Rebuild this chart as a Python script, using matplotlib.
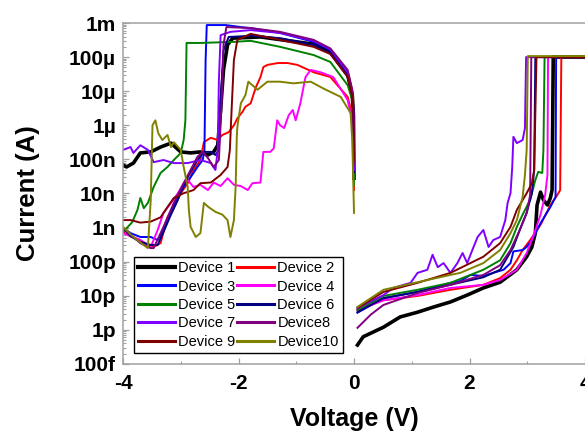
import numpy as np
import matplotlib
matplotlib.use("Agg")
import matplotlib.pyplot as plt
from matplotlib.ticker import MultipleLocator, LogLocator, NullFormatter

# I-V sweeps of 10 devices
# negative branch (-4 V -> 0 V) and positive branch (0 V -> 4 V)

d1_neg_v = [-4.0, -3.94, -3.82, -3.70, -3.52, -3.35, -3.17, -3.0, -2.83, -2.66, -2.53, -2.43, -2.36, -2.31, -2.26, -2.19, -2.1, -1.62, -0.70, -0.41, -0.11, -0.03, -0.01, 0.0]
d1_neg_i = [6.9e-8, 6.0e-8, 7.8e-8, 1.55e-7, 1.66e-7, 2.3e-7, 3.0e-7, 1.66e-7, 1.55e-7, 1.66e-7, 1.35e-7, 1.66e-7, 2.6e-7, 2.8e-6, 4.2e-5, 2.3e-4, 3.6e-4, 3.9e-4, 2.4e-4, 1.4e-4, 3.0e-5, 7.7e-6, 2.0e-6, 2.8e-8]
d1_pos_v = [0.06, 0.16, 0.51, 0.80, 1.10, 1.38, 1.67, 1.96, 2.24, 2.53, 2.82, 2.99, 3.08, 3.14, 3.17, 3.23, 3.28, 3.35, 3.40, 3.43, 3.45, 4.0]
d1_pos_i = [3.6e-13, 6.3e-13, 1.2e-12, 2.4e-12, 3.3e-12, 4.7e-12, 6.6e-12, 1.05e-11, 1.7e-11, 2.5e-11, 5.8e-11, 1.4e-10, 2.7e-10, 6.9e-10, 4.6e-9, 1.1e-8, 6.5e-9, 4.6e-9, 7.4e-9, 1.26e-8, 1e-4, 1e-4]

d2_neg_v = [-4.0, -3.87, -3.70, -3.57, -3.47, -3.35, -3.23, -3.12, -3.0, -2.88, -2.78, -2.66, -2.6, -2.48, -2.36, -2.28, -2.17, -2.08, -2.02, -1.93, -1.88, -1.79, -1.70, -1.62, -1.57, -1.50, -1.32, -1.15, -0.98, -0.70, -0.41, -0.11, -0.03, -0.01, 0.0]
d2_neg_i = [7.4e-10, 5.6e-10, 4.3e-10, 3.1e-10, 2.7e-10, 3.5e-10, 2.0e-9, 4.0e-9, 1.02e-8, 2.0e-8, 4.9e-8, 9.6e-8, 3.2e-7, 4.3e-7, 3.7e-7, 5.2e-7, 6.3e-7, 1.0e-6, 1.6e-6, 2.5e-6, 3.5e-6, 4.4e-6, 1.3e-5, 2.6e-5, 5.1e-5, 5.9e-5, 6.7e-5, 6.7e-5, 5.9e-5, 3.6e-5, 2.6e-5, 6.8e-6, 2.0e-6, 3.7e-7, 1.26e-8]
d2_pos_v = [0.06, 0.51, 1.10, 1.67, 2.24, 2.53, 2.71, 2.82, 2.92, 3.05, 3.23, 3.40, 3.52, 3.57, 3.59, 4.0]
d2_pos_i = [3.8e-12, 7.4e-12, 9.9e-12, 1.5e-11, 2.1e-11, 3.3e-11, 5.8e-11, 1.1e-10, 2.2e-10, 4.3e-10, 1.2e-9, 4.6e-9, 9.0e-9, 1.26e-8, 1e-4, 1e-4]

d3_neg_v = [-4.0, -3.87, -3.70, -3.52, -3.40, -3.30, -3.17, -3.05, -2.95, -2.83, -2.71, -2.62, -2.59, -2.57, -2.55, -2.22, -1.96, -1.79, -1.28, -0.70, -0.41, -0.11, -0.03, -0.01, 0.0]
d3_neg_i = [9.8e-10, 6.9e-10, 5.3e-10, 5.3e-10, 4.3e-10, 8.5e-10, 2.7e-9, 7.9e-9, 1.55e-8, 3.0e-8, 6.0e-8, 9.6e-8, 1.9e-7, 8.2e-5, 8.7e-4, 8.7e-4, 7.6e-4, 7.1e-4, 5.1e-4, 2.8e-4, 1.6e-4, 3.4e-5, 8.9e-6, 2.3e-6, 3.5e-8]
d3_pos_v = [0.06, 0.51, 1.10, 1.67, 1.84, 2.02, 2.24, 2.41, 2.59, 2.71, 2.76, 2.92, 2.99, 3.08, 3.23, 3.40, 3.49, 3.50, 4.0]
d3_pos_i = [3.2e-12, 8.5e-12, 1.3e-11, 2.4e-11, 2.7e-11, 4.1e-11, 3.8e-11, 4.7e-11, 5.8e-11, 9.1e-11, 2.0e-10, 2.2e-10, 2.7e-10, 4.3e-10, 1.35e-9, 4.0e-9, 7.9e-9, 1e-4, 1e-4]

d4_neg_v = [-4.0, -3.70, -3.52, -3.40, -3.30, -3.17, -3.05, -2.95, -2.88, -2.78, -2.66, -2.53, -2.43, -2.31, -2.19, -2.08, -1.96, -1.84, -1.76, -1.62, -1.57, -1.45, -1.39, -1.33, -1.28, -1.21, -1.13, -1.06, -1.01, -0.93, -0.84, -0.75, -0.58, -0.36, -0.11, -0.03, 0.0]
d4_neg_i = [6.9e-10, 4.3e-10, 2.7e-10, 8.5e-10, 2.7e-9, 5.3e-9, 1.02e-8, 2.0e-8, 2.5e-8, 1.55e-8, 1.8e-8, 1.26e-8, 2.1e-8, 1.65e-8, 2.8e-8, 1.8e-8, 1.65e-8, 1.26e-8, 2.0e-8, 2.1e-8, 1.66e-7, 1.66e-7, 2.1e-7, 1.4e-6, 1.0e-6, 8.3e-7, 2.0e-6, 2.8e-6, 1.4e-6, 4.4e-6, 2.6e-5, 4.2e-5, 3.6e-5, 2.6e-5, 5.5e-6, 1.4e-6, 2.5e-8]
d4_pos_v = [0.06, 0.51, 1.10, 1.67, 2.24, 2.53, 2.82, 2.99, 3.10, 3.23, 3.31, 3.35, 3.36, 4.0]
d4_pos_i = [3.8e-12, 7.4e-12, 1.05e-11, 1.7e-11, 2.1e-11, 2.9e-11, 5.8e-11, 1.8e-10, 5.3e-10, 2.4e-9, 9.0e-9, 3.5e-8, 1e-4, 1e-4]

d5_neg_v = [-4.0, -3.84, -3.75, -3.70, -3.64, -3.57, -3.47, -3.35, -3.23, -3.12, -3.0, -2.95, -2.92, -2.90, -2.66, -2.08, -1.79, -1.28, -0.70, -0.41, -0.11, -0.03, -0.01, 0.0]
d5_neg_i = [7.4e-10, 1.45e-9, 3.3e-9, 7.4e-9, 3.7e-9, 5.3e-9, 1.55e-8, 4.0e-8, 6.0e-8, 9.6e-8, 1.55e-7, 3.7e-7, 1.4e-6, 2.6e-4, 2.6e-4, 2.8e-4, 3.0e-4, 2.0e-4, 1.15e-4, 7.2e-5, 1.5e-5, 5.5e-6, 1.4e-6, 1.8e-8]
d5_pos_v = [0.06, 0.51, 1.10, 1.67, 2.24, 2.53, 2.71, 2.82, 2.92, 3.05, 3.14, 3.19, 3.26, 3.28, 3.30, 4.0]
d5_pos_i = [3.8e-12, 9.9e-12, 1.5e-11, 2.4e-11, 5.8e-11, 1.1e-10, 3.5e-10, 1.05e-9, 2.4e-9, 6.5e-9, 2.5e-8, 4.3e-8, 4.0e-8, 1.9e-7, 1e-4, 1e-4]

d6_neg_v = [-4.0, -3.87, -3.70, -3.52, -3.40, -3.30, -3.17, -3.05, -2.95, -2.83, -2.71, -2.6, -2.48, -2.40, -2.34, -2.31, -2.26, -2.17, -1.79, -1.28, -0.70, -0.41, -0.11, -0.03, -0.01, 0.0]
d6_neg_i = [9.8e-10, 5.6e-10, 3.8e-10, 3.1e-10, 3.1e-10, 7.4e-10, 2.4e-9, 6.5e-9, 1.8e-8, 4.3e-8, 9.6e-8, 1.66e-7, 1.66e-7, 1.35e-7, 1.9e-7, 5.5e-6, 1.6e-4, 3.9e-4, 4.2e-4, 3.6e-4, 2.3e-4, 1.3e-4, 2.8e-5, 7.2e-6, 1.9e-6, 4.3e-8]
d6_pos_v = [0.06, 0.51, 1.10, 1.67, 2.24, 2.53, 2.76, 2.87, 2.99, 3.08, 3.12, 3.14, 4.0]
d6_pos_i = [3.3e-12, 8.5e-12, 1.3e-11, 2.1e-11, 3.5e-11, 5.8e-11, 2.7e-10, 8.5e-10, 2.7e-9, 1.02e-8, 4.9e-8, 1e-4, 1e-4]

d7_neg_v = [-4.0, -3.87, -3.82, -3.70, -3.57, -3.47, -3.30, -3.12, -2.88, -2.66, -2.48, -2.40, -2.36, -2.34, -2.31, -2.14, -1.79, -1.28, -0.70, -0.41, -0.11, -0.03, -0.01, 0.0]
d7_neg_i = [1.9e-7, 2.3e-7, 1.55e-7, 2.6e-7, 1.9e-7, 8.3e-8, 9.6e-8, 7.8e-8, 7.8e-8, 9.6e-8, 7.8e-8, 4.9e-8, 1.9e-7, 2.1e-5, 4.4e-4, 5.5e-4, 6.2e-4, 5.1e-4, 3.0e-4, 1.7e-4, 3.6e-5, 9.5e-6, 2.5e-6, 4.9e-8]
d7_pos_v = [0.06, 0.51, 0.68, 0.98, 1.10, 1.27, 1.36, 1.45, 1.55, 1.67, 1.79, 1.88, 1.96, 2.07, 2.14, 2.24, 2.33, 2.41, 2.53, 2.62, 2.66, 2.71, 2.74, 2.76, 2.82, 2.92, 2.96, 2.98, 4.0]
d7_pos_i = [4.4e-12, 1.05e-11, 1.7e-11, 2.4e-11, 4.7e-11, 5.8e-11, 1.6e-10, 6.9e-11, 9.1e-11, 4.7e-11, 9.1e-11, 1.8e-10, 9.1e-11, 2.7e-10, 5.3e-10, 8.5e-10, 2.7e-10, 4.3e-10, 5.3e-10, 1.66e-9, 5.3e-9, 1.02e-8, 6.0e-8, 4.6e-7, 3.0e-7, 3.7e-7, 8.3e-7, 1e-4, 1e-4]

d8_neg_v = [-4.0, -3.87, -3.70, -3.52, -3.47, -3.30, -3.12, -2.95, -2.83, -2.71, -2.62, -2.53, -2.43, -2.34, -2.29, -2.26, -2.21, -1.79, -1.28, -0.70, -0.41, -0.11, -0.03, -0.01, 0.0]
d8_neg_i = [9.8e-10, 6.2e-10, 3.5e-10, 2.5e-10, 2.5e-10, 1.05e-9, 5.3e-9, 2.0e-8, 4.9e-8, 1.2e-7, 1.66e-7, 1.1e-7, 6.0e-8, 9.6e-8, 5.5e-6, 2.3e-4, 7.6e-4, 7.1e-4, 5.5e-4, 3.2e-4, 1.8e-4, 4.2e-5, 1.1e-5, 2.8e-6, 6.9e-8]
d8_pos_v = [0.06, 0.29, 0.51, 1.10, 1.67, 2.24, 2.53, 2.71, 2.87, 2.99, 3.05, 3.07, 4.0]
d8_pos_i = [1.15e-12, 2.8e-12, 5.4e-12, 1.2e-11, 2.1e-11, 4.1e-11, 7.9e-11, 2.2e-10, 8.5e-10, 2.7e-9, 9.0e-9, 1e-4, 1e-4]

d9_neg_v = [-4.0, -3.87, -3.70, -3.52, -3.35, -3.23, -3.12, -2.95, -2.78, -2.66, -2.48, -2.31, -2.19, -2.15, -2.12, -2.08, -2.02, -1.79, -1.28, -0.70, -0.41, -0.11, -0.03, -0.01, 0.0]
d9_neg_i = [1.66e-9, 1.66e-9, 1.4e-9, 1.5e-9, 2.0e-9, 4.0e-9, 7.4e-9, 1.02e-8, 1.26e-8, 2.0e-8, 2.1e-8, 3.5e-8, 6.0e-8, 1.9e-7, 2.8e-6, 8.2e-5, 3.2e-4, 4.8e-4, 3.2e-4, 2.0e-4, 1.23e-4, 2.6e-5, 6.8e-6, 1.8e-6, 9.6e-8]
d9_pos_v = [0.06, 0.51, 1.10, 1.67, 2.24, 2.53, 2.71, 2.82, 2.99, 3.08, 3.12, 3.16, 4.0]
d9_pos_i = [4.4e-12, 1.3e-11, 2.4e-11, 4.7e-11, 1.4e-10, 3.5e-10, 1.05e-9, 3.3e-9, 1.02e-8, 2.0e-8, 4.9e-8, 1e-4, 1e-4]

d10_neg_v = [-4.0, -3.82, -3.57, -3.52, -3.49, -3.44, -3.39, -3.32, -3.23, -3.17, -3.12, -3.0, -2.95, -2.88, -2.86, -2.83, -2.74, -2.66, -2.6, -2.52, -2.40, -2.28, -2.19, -2.14, -2.08, -2.05, -2.03, -2.02, -1.96, -1.88, -1.83, -1.67, -1.62, -1.50, -1.28, -1.05, -0.75, -0.53, -0.23, -0.06, -0.03, 0.0]
d10_neg_i = [1.05e-9, 5.3e-10, 2.5e-10, 6.5e-9, 1.0e-6, 1.4e-6, 5.9e-7, 3.7e-7, 5.2e-7, 2.3e-7, 3.2e-7, 1.9e-7, 6.0e-8, 1.55e-8, 3.3e-9, 1.05e-9, 5.3e-10, 6.9e-10, 5.3e-9, 4.0e-9, 2.9e-9, 2.4e-9, 1.66e-9, 5.3e-10, 1.66e-9, 1.55e-8, 4.6e-7, 9.0e-7, 4.4e-6, 7.7e-6, 1.9e-5, 1.1e-5, 1.3e-5, 1.9e-5, 1.9e-5, 1.7e-5, 1.9e-5, 1.2e-5, 6.8e-6, 2.3e-6, 3.7e-7, 2.7e-9]
d10_pos_v = [0.06, 0.51, 1.10, 1.67, 1.84, 2.24, 2.53, 2.71, 2.82, 2.92, 2.96, 2.99, 3.01, 4.0]
d10_pos_i = [4.7e-12, 1.5e-11, 2.5e-11, 4.1e-11, 4.7e-11, 9.1e-11, 2.2e-10, 6.9e-10, 1.66e-9, 7.9e-9, 3.5e-8, 1.9e-7, 1.07e-4, 1.07e-4]

nomes = ['Device 1', 'Device 2', 'Device 3', 'Device 4', 'Device 5',
         'Device 6', 'Device 7', 'Device8', 'Device 9', 'Device10']
cores = ['#000000', '#ff0000', '#0000ff', '#ff00ff', '#008000',
         '#000080', '#8000ff', '#800080', '#800000', '#808000']

y_ticks = [1e-13, 1e-12, 1e-11, 1e-10, 1e-9, 1e-8, 1e-7, 1e-6, 1e-5, 1e-4, 1e-3]
y_labels = ['100f', '1p', '10p', '100p', '1n', '10n', '100n', '1\u00b5', '10\u00b5', '100\u00b5', '1m']
x_ticks = [-4, -2, 0, 2, 4]
x_labels = ['-4', '-2', '0', '2', '4']

neg = [(d1_neg_v, d1_neg_i), (d2_neg_v, d2_neg_i), (d3_neg_v, d3_neg_i), (d4_neg_v, d4_neg_i),
       (d5_neg_v, d5_neg_i), (d6_neg_v, d6_neg_i), (d7_neg_v, d7_neg_i), (d8_neg_v, d8_neg_i),
       (d9_neg_v, d9_neg_i), (d10_neg_v, d10_neg_i)]
pos = [(d1_pos_v, d1_pos_i), (d2_pos_v, d2_pos_i), (d3_pos_v, d3_pos_i), (d4_pos_v, d4_pos_i),
       (d5_pos_v, d5_pos_i), (d6_pos_v, d6_pos_i), (d7_pos_v, d7_pos_i), (d8_pos_v, d8_pos_i),
       (d9_pos_v, d9_pos_i), (d10_pos_v, d10_pos_i)]

plt.rcParams['font.family'] = ['Liberation Sans', 'DejaVu Sans']

fig = plt.figure(figsize=(5.85, 4.34), dpi=100)
ax = fig.add_axes([0.2103, 0.1613, 0.7897, 0.7857])

linhas = []
for k in range(10):
    lw = 2.6 if k == 0 else 1.4
    l, = ax.plot(neg[k][0], neg[k][1], color=cores[k], lw=lw, label=nomes[k])
    ax.plot(pos[k][0], pos[k][1], color=cores[k], lw=lw)
    linhas.append(l)

ax.set_yscale('log')
ax.set_xlim(-4, 4)
ax.set_ylim(1e-13, 1e-3)

ax.set_yticks(y_ticks)
ax.set_yticklabels(y_labels, fontsize=15, fontweight='bold')
ax.set_xticks(x_ticks)
ax.set_xticklabels(x_labels, fontsize=15, fontweight='bold')
ax.xaxis.set_minor_locator(MultipleLocator(1))
ax.yaxis.set_minor_locator(LogLocator(base=10, subs=np.arange(2, 10), numticks=100))
ax.yaxis.set_minor_formatter(NullFormatter())

cinza = '#a0a0a0'
for lado in ['left', 'bottom', 'top']:
    ax.spines[lado].set_color(cinza)
    ax.spines[lado].set_linewidth(1.1)
ax.spines['right'].set_visible(False)
ax.tick_params(which='both', direction='in', color=cinza, top=False, right=False)
ax.tick_params(which='major', length=4, width=0.9, pad=5)
ax.tick_params(which='minor', length=2.5, width=0.8)
ax.tick_params(axis='x', which='major', pad=7)

ax.set_xlabel('Voltage (V)', fontsize=18, fontweight='bold', labelpad=10)
ax.set_ylabel('Current (A)', fontsize=18.5, fontweight='bold', labelpad=20)

# legenda em 2 colunas, lida por linhas (1 2 / 3 4 / ...)
ordem = [0, 2, 4, 6, 8, 1, 3, 5, 7, 9]
leg = ax.legend([linhas[i] for i in ordem], [nomes[i] for i in ordem], ncol=2,
                loc='lower left', bbox_to_anchor=(0.0238, 0.032), borderaxespad=0,
                fontsize=10.5, handlelength=2.5, handletextpad=0.25, columnspacing=0.1,
                labelspacing=0.3, borderpad=0.3, fancybox=False, edgecolor='black',
                framealpha=1)
leg.get_frame().set_linewidth(1.0)
for i, h in zip(ordem, leg.get_lines()):
    h.set_linewidth(3.0 if i == 0 else 2.2)

fig.savefig('out.png', dpi=100)
